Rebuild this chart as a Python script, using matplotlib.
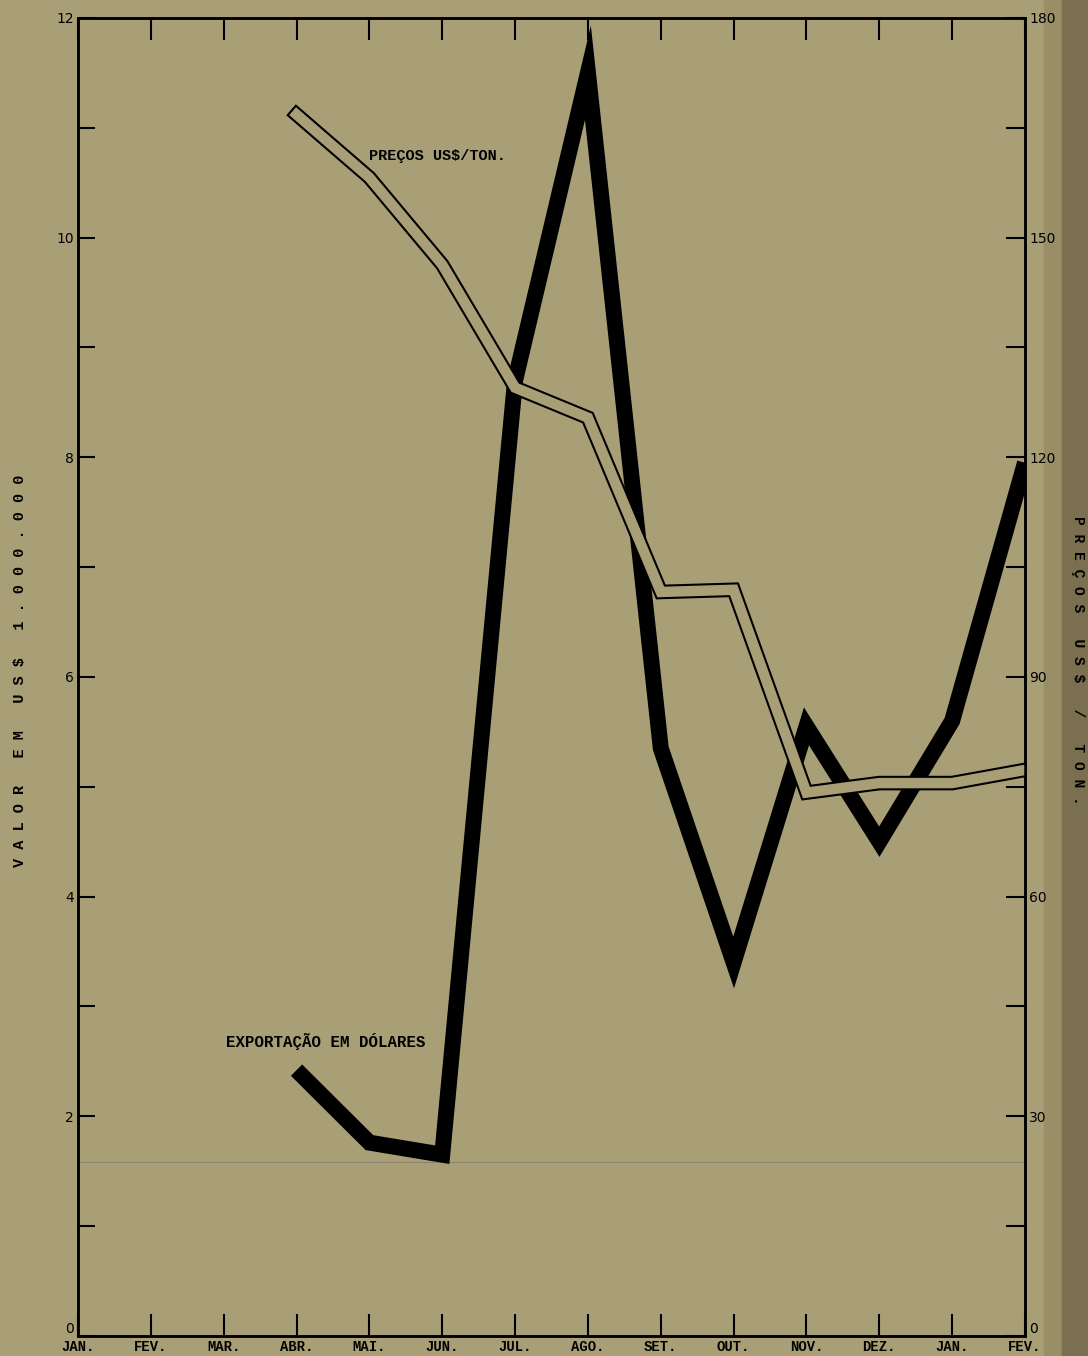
import matplotlib.pyplot as plt
from matplotlib.patches import Rectangle

# meses (eixo x)
meses = ["JAN.", "FEV.", "MAR.", "ABR.", "MAI.", "JUN.", "JUL.",
         "AGO.", "SET.", "OUT.", "NOV.", "DEZ.", "JAN.", "FEV."]

# exportacao em dolares (milhoes de US$), de ABR a FEV
export_x = [3, 4, 5, 6, 7, 8, 9, 10, 11, 12, 13]
export_val = [2.42, 1.76, 1.65, 8.7, 11.5, 5.35, 3.4, 5.55, 4.5, 5.6, 7.95]

# precos US$/ton, de ABR a FEV
preco_x = [3, 4, 5, 6, 7, 8, 9, 10, 11, 12, 13]
preco_val = [166.8, 158.2, 146.3, 129.5, 125.4, 101.6, 101.9, 74.2, 75.5, 75.5, 77.3]

fundo = "#a99f77"
fonte = "Liberation Mono"

fig = plt.figure(figsize=(10.88, 13.56), dpi=100, facecolor=fundo)
# borda direita escurecida (papel), atras de tudo
fig.patches.append(Rectangle((0.96, 0), 0.04, 1, transform=fig.transFigure,
                             color="#998e66", zorder=-2))
fig.patches.append(Rectangle((0.976, 0), 0.024, 1, transform=fig.transFigure,
                             color="#7a6f4f", zorder=-1))

ax = fig.add_axes([0.0717, 0.0148, 0.8704, 0.972])
ax.set_facecolor(fundo)
ax2 = ax.twinx()

ax.set_xlim(0, 13)
ax.set_ylim(0, 12)
ax2.set_ylim(0, 180)

# linha fina do papel (dobra)
ax.axhline(1.58, color="#8a8470", lw=0.8, zorder=1)

# linha de exportacao (grossa)
ax.plot(export_x, export_val, color="black", lw=11.5, solid_joinstyle="miter",
        solid_capstyle="butt", zorder=3)

# linha de precos (dupla)
ax2.plot(preco_x, preco_val, color="black", lw=10.5, solid_joinstyle="miter",
         solid_capstyle="projecting", zorder=2)
ax2.plot(preco_x, preco_val, color=fundo, lw=7.5, solid_joinstyle="miter",
         solid_capstyle="projecting", zorder=2)

# ticks
ax.set_xticks(range(len(meses)))
ax.set_xticklabels(meses, fontfamily=fonte, fontweight="bold", fontsize=10)
ax.set_yticks(range(0, 13))
ax.set_yticklabels([str(v) if v % 2 == 0 else "" for v in range(0, 13)],
                   fontsize=10)
ax.tick_params(axis="x", direction="in", length=16, width=1.5, pad=3,
               top=True, labeltop=False)
ax.tick_params(axis="y", direction="in", length=12, width=1.5, pad=3)
ax2.set_yticks(range(0, 181, 15))
ax2.set_yticklabels([str(v) if v % 30 == 0 else "" for v in range(0, 181, 15)],
                    fontsize=10)
ax2.tick_params(axis="y", direction="in", length=14, width=1.5, pad=3)

# os zeros ficam um pouco acima do eixo x
ax.get_yticklabels()[0].set_va("bottom")
ax2.get_yticklabels()[0].set_va("bottom")

for a in (ax, ax2):
    for s in a.spines.values():
        s.set_linewidth(1.8)
        s.set_color("black")

# anotacoes
ax.text(4.0, 10.74, "PREÇOS US$/TON.", fontfamily=fonte, fontweight="bold",
        fontsize=11, va="center", ha="left", zorder=4)
ax.text(2.03, 2.68, "EXPORTAÇÃO EM DÓLARES", fontfamily=fonte,
        fontweight="bold", fontsize=11.3, va="center", ha="left", zorder=4)

# rotulos dos eixos
fig.text(0.018, 0.505, " ".join("VALOR EM US$ 1.000.000"), rotation=90,
         fontfamily=fonte, fontweight="bold", fontsize=11,
         ha="center", va="center")
fig.text(0.991, 0.513, " ".join("PREÇOS US$ / TON."), rotation=-90,
         fontfamily=fonte, fontweight="bold", fontsize=10.5,
         ha="center", va="center")

fig.savefig("out.png", dpi=100, facecolor=fundo)
